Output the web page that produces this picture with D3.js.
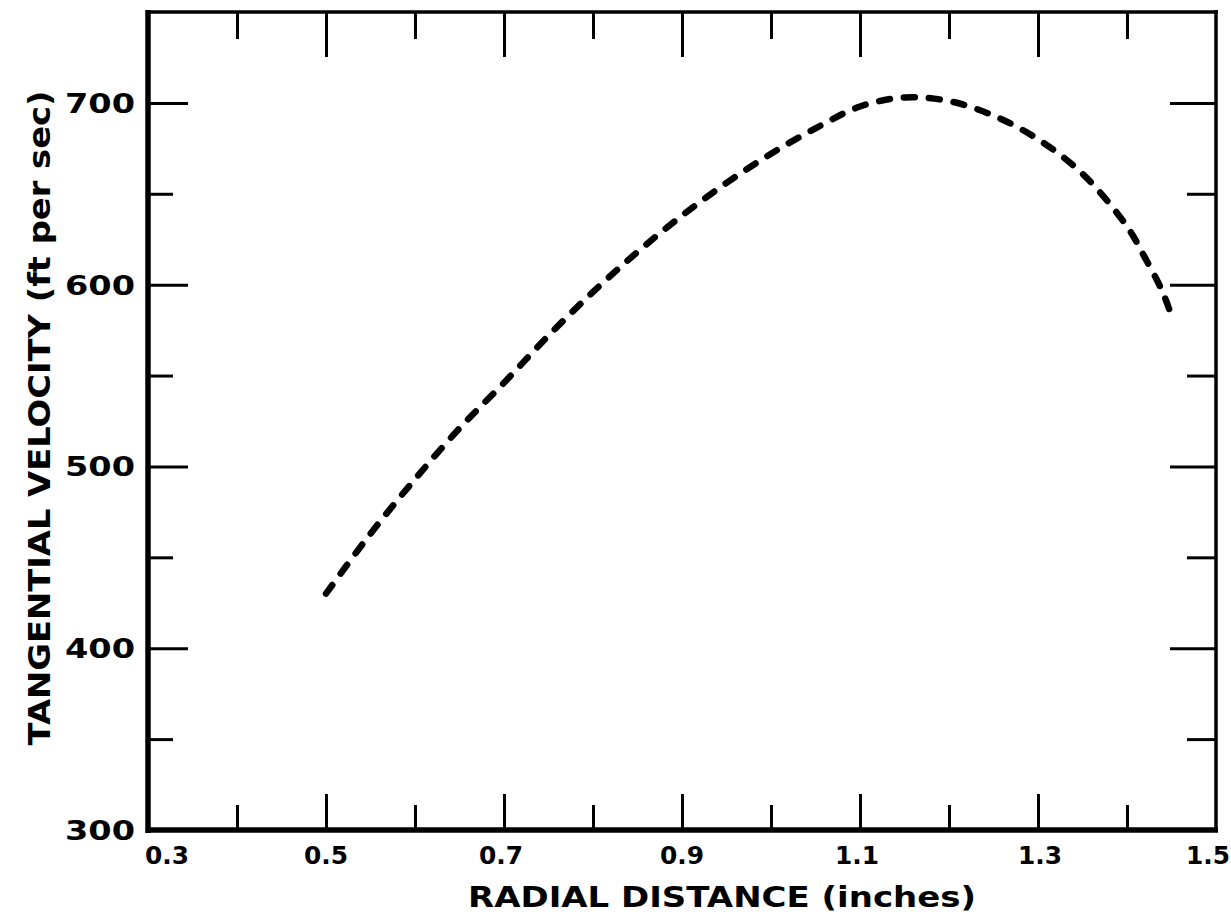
<!DOCTYPE html>
<html>
<head>
<meta charset="utf-8">
<script src="https://cdn.jsdelivr.net/npm/d3@7"></script>
<style>
  html, body { margin: 0; padding: 0; background: #fff; }
  svg { display: block; }
  text { font-family: "DejaVu Sans", sans-serif; fill: #000; }
</style>
</head>
<body>
<svg id="chart" width="1231" height="920"></svg>
<script>
// ---- data ----
const radialDistance = [0.50, 0.55, 0.60, 0.65, 0.70, 0.75, 0.80, 0.85, 0.90, 0.95, 1.00, 1.05, 1.10, 1.15, 1.20, 1.25, 1.30, 1.35, 1.40, 1.42, 1.44, 1.452];
const tangentialVelocity = [430, 463, 493, 521, 546, 572, 596, 618, 638, 656, 672, 686, 698, 703, 701, 693, 680, 661, 632, 615, 596, 580];

const xMajorTicks = [0.3, 0.5, 0.7, 0.9, 1.1, 1.3, 1.5];
const xMajorLabels = ["0.3", "0.5", "0.7", "0.9", "1.1", "1.3", "1.5"];
const xMinorTicks = [0.4, 0.6, 0.8, 1.0, 1.2, 1.4];
const yMajorTicks = [300, 400, 500, 600, 700];
const yMajorLabels = ["300", "400", "500", "600", "700"];
const yMinorTicks = [350, 450, 550, 650];

const xTitle = "RADIAL DISTANCE (inches)";
const yTitle = "TANGENTIAL VELOCITY (ft per sec)";

// ---- layout ----
const L = 148, R = 1216, T = 12, B = 830;
const x = d3.scaleLinear().domain([0.3, 1.5]).range([L, R]);
const y = d3.scaleLinear().domain([300, 750]).range([B, T]);

const svg = d3.select("#chart");

function tickAxis(axisFn, scale, ticks, size, transform) {
  const g = svg.append("g").attr("transform", transform)
    .call(axisFn(scale).tickValues(ticks).tickSize(size).tickFormat(""));
  g.select(".domain").remove();
  g.selectAll(".tick line").attr("stroke", "#000").attr("stroke-width", 3);
  return g;
}

// bottom ticks (inward = up)
tickAxis(d3.axisBottom, x, xMajorTicks.slice(1, -1), -36, `translate(0,${B})`);
tickAxis(d3.axisBottom, x, xMinorTicks, -25, `translate(0,${B})`);
// top ticks (inward = down)
tickAxis(d3.axisTop, x, xMajorTicks.slice(1, -1), -45, `translate(0,${T})`);
tickAxis(d3.axisTop, x, xMinorTicks, -27, `translate(0,${T})`);
// left ticks (inward = right)
tickAxis(d3.axisLeft, y, yMajorTicks.slice(1), -40, `translate(${L},0)`);
tickAxis(d3.axisLeft, y, yMinorTicks, -25, `translate(${L},0)`);
// right ticks (inward = left)
tickAxis(d3.axisRight, y, yMajorTicks.slice(1), -46, `translate(${R},0)`);
tickAxis(d3.axisRight, y, yMinorTicks, -29, `translate(${R},0)`);

// frame
svg.append("line").attr("x1", L).attr("x2", L).attr("y1", T - 2).attr("y2", B + 3)
  .attr("stroke", "#000").attr("stroke-width", 5.5);
svg.append("line").attr("x1", L - 2).attr("x2", R + 2).attr("y1", B).attr("y2", B)
  .attr("stroke", "#000").attr("stroke-width", 5.5);
svg.append("line").attr("x1", L - 2).attr("x2", R + 2).attr("y1", T).attr("y2", T)
  .attr("stroke", "#000").attr("stroke-width", 3.5);
svg.append("line").attr("x1", R).attr("x2", R).attr("y1", T - 2).attr("y2", B + 2)
  .attr("stroke", "#000").attr("stroke-width", 3.5);

// x tick labels
const xLabelNudge = [19, 0, -3, 0, -3, 2, -8];
svg.append("g").selectAll("text").data(xMajorTicks).join("text")
  .attr("x", (d, i) => x(d) + xLabelNudge[i])
  .attr("y", 864)
  .attr("text-anchor", "middle")
  .attr("font-size", 25)
  .attr("font-weight", "bold")
  .attr("textLength", 44)
  .attr("lengthAdjust", "spacingAndGlyphs")
  .text((d, i) => xMajorLabels[i]);

// y tick labels
svg.append("g").selectAll("text").data(yMajorTicks).join("text")
  .attr("x", 135)
  .attr("y", d => y(d) + 10)
  .attr("text-anchor", "end")
  .attr("font-size", 27)
  .attr("font-weight", "bold")
  .attr("textLength", 70)
  .attr("lengthAdjust", "spacingAndGlyphs")
  .text((d, i) => yMajorLabels[i]);

// axis titles
svg.append("text")
  .attr("x", 722).attr("y", 907)
  .attr("text-anchor", "middle")
  .attr("font-size", 29)
  .attr("font-weight", "bold")
  .attr("textLength", 508)
  .attr("lengthAdjust", "spacingAndGlyphs")
  .text(xTitle);

svg.append("text")
  .attr("transform", "translate(50,418) rotate(-90)")
  .attr("text-anchor", "middle")
  .attr("font-size", 30)
  .attr("font-weight", "bold")
  .attr("textLength", 655)
  .attr("lengthAdjust", "spacingAndGlyphs")
  .text(yTitle);

// curve
const pts = radialDistance.map((r, i) => [r, tangentialVelocity[i]]);
const line = d3.line().x(d => x(d[0])).y(d => y(d[1])).curve(d3.curveCatmullRom.alpha(0.5));
svg.append("path")
  .attr("d", line(pts))
  .attr("fill", "none")
  .attr("stroke", "#000")
  .attr("stroke-width", 6.5)
  .attr("stroke-linecap", "round")
  .attr("stroke-dasharray", "11,14");
</script>
</body>
</html>
